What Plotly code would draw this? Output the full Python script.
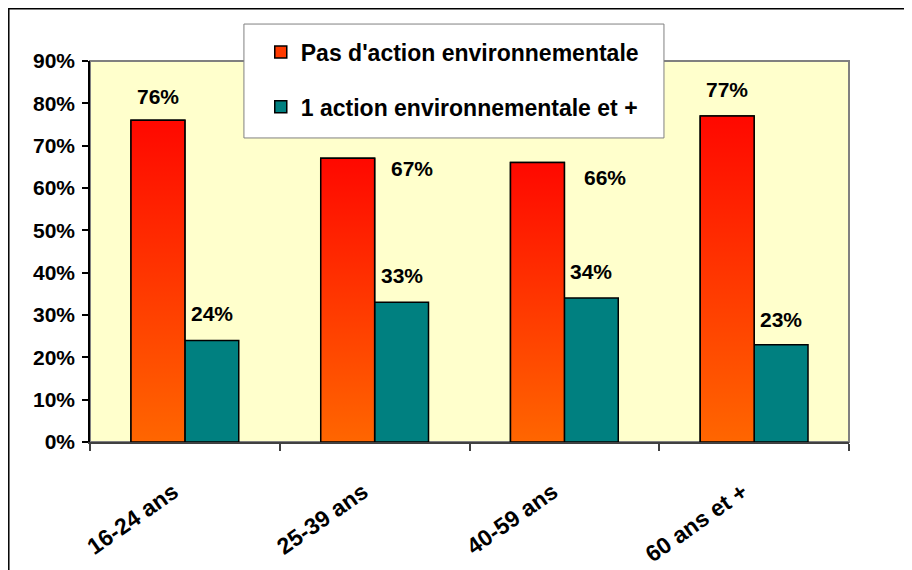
import plotly.graph_objects as go

# ---- data ----
categories = ["16-24 ans", "25-39 ans", "40-59 ans", "60 ans et +"]
no_action = [76, 67, 66, 77]
action = [24, 33, 34, 23]
series_names = ["Pas d'action environnementale", "1 action environnementale et +"]
y_tick_values = [0, 10, 20, 30, 40, 50, 60, 70, 80, 90]
y_tick_labels = [f"{v}%" for v in y_tick_values]

# ---- style ----
FONT = "Liberation Sans, Arial, sans-serif"
W = 0.284  # bar width in category units
LABEL_NUDGE = 0.06  # move rotated category labels slightly left of centre
orange_label_shift = [(0, 24), (64, -10), (68, -15), (0, 27)]
teal_label_shift = [(0, 27), (0, 27), (0, 27), (0, 25)]

idx = list(range(len(categories)))

fig = go.Figure()
fig.add_trace(go.Bar(
    x=idx, y=no_action, width=W, offset=-W, name=series_names[0],
    marker=dict(color="#FF3A00", line=dict(color="black", width=1.5)),
    legendgroup="a", hoverinfo="skip"))
fig.add_trace(go.Bar(
    x=idx, y=action, width=W, offset=0, name=series_names[1],
    marker=dict(color="#008080", line=dict(color="black", width=1.5)),
    legendgroup="b", hoverinfo="skip"))

# gradient overlay on orange bars
for i, v in zip(idx, no_action):
    fig.add_trace(go.Scatter(
        x=[i - W, i, i, i - W, i - W], y=[0, 0, v, v, 0],
        mode="lines", fill="toself",
        line=dict(color="black", width=1.5),
        fillgradient=dict(type="vertical",
                          colorscale=[[0, "#FF6600"], [1, "#FF0800"]]),
        showlegend=False, hoverinfo="skip"))

annotations = []
for i, v, (dx, dy) in zip(idx, no_action, orange_label_shift):
    annotations.append(dict(x=i - W / 2, y=v, text=f"{v}%", showarrow=False,
                            xshift=dx, yshift=dy,
                            font=dict(family=FONT, size=21, color="black", weight="bold")))
for i, v, (dx, dy) in zip(idx, action, teal_label_shift):
    annotations.append(dict(x=i + W / 2, y=v, text=f"{v}%", showarrow=False,
                            xshift=dx, yshift=dy,
                            font=dict(family=FONT, size=21, color="black", weight="bold")))

shapes = [
    # outer chart frame (extends past the picture on right/bottom)
    dict(type="rect", xref="paper", yref="paper", x0=-0.107, x1=1.2, y0=-0.5, y1=1.137,
         line=dict(color="black", width=1.5), layer="below"),
    # plot area border
    dict(type="rect", xref="paper", yref="paper", x0=0, x1=1, y0=0, y1=1,
         line=dict(color="#808080", width=2), layer="below"),
    # legend box
    dict(type="rect", xref="paper", yref="paper", x0=0.2028, x1=0.7562, y0=0.798, y1=1.097,
         line=dict(color="#808080", width=1), fillcolor="white", layer="above"),
]

fig.update_layout(
    width=912, height=570,
    margin=dict(l=82, r=71, t=53, b=136),
    paper_bgcolor="white", plot_bgcolor="#FFFFCC",
    font=dict(family=FONT, size=20, color="black", weight="bold"),
    barmode="overlay", showlegend=True,
    legend=dict(x=0.225, y=1.08, xanchor="left", yanchor="top",
                bgcolor="rgba(0,0,0,0)", borderwidth=0,
                font=dict(family=FONT, size=23, color="black", weight="bold"),
                traceorder="grouped", tracegroupgap=22),
    xaxis=dict(range=[-0.5, 3.5], tickmode="array",
               tickvals=[i - LABEL_NUDGE for i in idx], ticktext=categories,
               ticks="", tickangle=-35, showgrid=False, zeroline=False,
               showline=True, linecolor="#404040", linewidth=1.5,
               ticklabelstandoff=26,
               minor=dict(tickmode="array", tickvals=[-0.5, 0.5, 1.5, 2.5, 3.5],
                          ticks="outside", ticklen=7, tickcolor="#404040", tickwidth=1.5),
               tickfont=dict(family=FONT, size=23, color="black", weight="bold")),
    yaxis=dict(range=[0, 90], tickmode="array", tickvals=y_tick_values, ticktext=y_tick_labels,
               ticks="outside", ticklen=6, tickcolor="black", tickwidth=1.5,
               ticklabelstandoff=3,
               showgrid=False, zeroline=False, showline=True, linecolor="black", linewidth=1.5,
               tickfont=dict(family=FONT, size=21, color="black", weight="bold")),
    annotations=annotations, shapes=shapes,
)

fig.write_html("out.html")
